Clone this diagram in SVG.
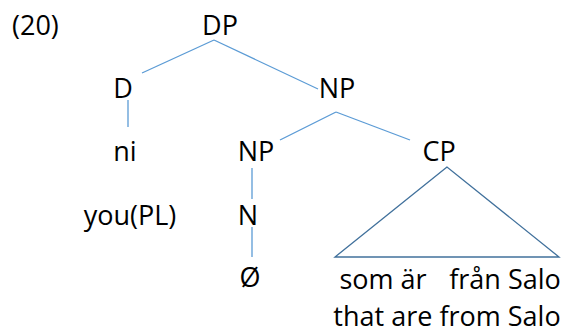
<svg xmlns="http://www.w3.org/2000/svg" width="571" height="334" viewBox="0 0 571 334">
<style>
text{font-family:"Open Sans","Liberation Sans",sans-serif;font-size:27px;fill:#000;text-anchor:middle}
.e{stroke:#5b9bd5;stroke-width:1.3;fill:none}
.t{stroke:#41719c;stroke-width:1.3;fill:none}
</style>
<rect width="571" height="334" fill="#fff"/>
<text x="12" y="35" style="text-anchor:start">(20)</text>
<g id="connectors">
<line class="e" x1="214" y1="40" x2="142" y2="73"/>
<line class="e" x1="214" y1="40" x2="318" y2="89"/>
<line class="e" x1="128" y1="100" x2="128" y2="127"/>
<line class="e" x1="336" y1="112" x2="280" y2="140"/>
<line class="e" x1="336" y1="112" x2="410" y2="140"/>
<line class="e" x1="252" y1="168" x2="252" y2="199"/>
<line class="e" x1="252" y1="227" x2="252" y2="257"/>
<polygon class="t" points="447,167 335,257 559,257"/>
</g>
<g id="DP"><text x="220" y="35">DP</text></g>
<g id="D"><text x="123" y="98">D</text></g>
<g id="NP1"><text x="337" y="98">NP</text></g>
<g id="ni"><text x="125" y="161">ni</text></g>
<g id="NP2"><text x="256" y="161">NP</text></g>
<g id="CP"><text x="439" y="161">CP</text></g>
<g id="you"><text x="130" y="225">you(PL)</text></g>
<g id="N"><text x="248" y="225">N</text></g>
<g id="null"><text x="250" y="287">Ø</text></g>
<g id="som"><text x="383" y="289">som är</text><text x="505" y="289">från Salo</text></g>
<g id="gloss"><text x="447" y="326">that are from Salo</text></g>
</svg>
